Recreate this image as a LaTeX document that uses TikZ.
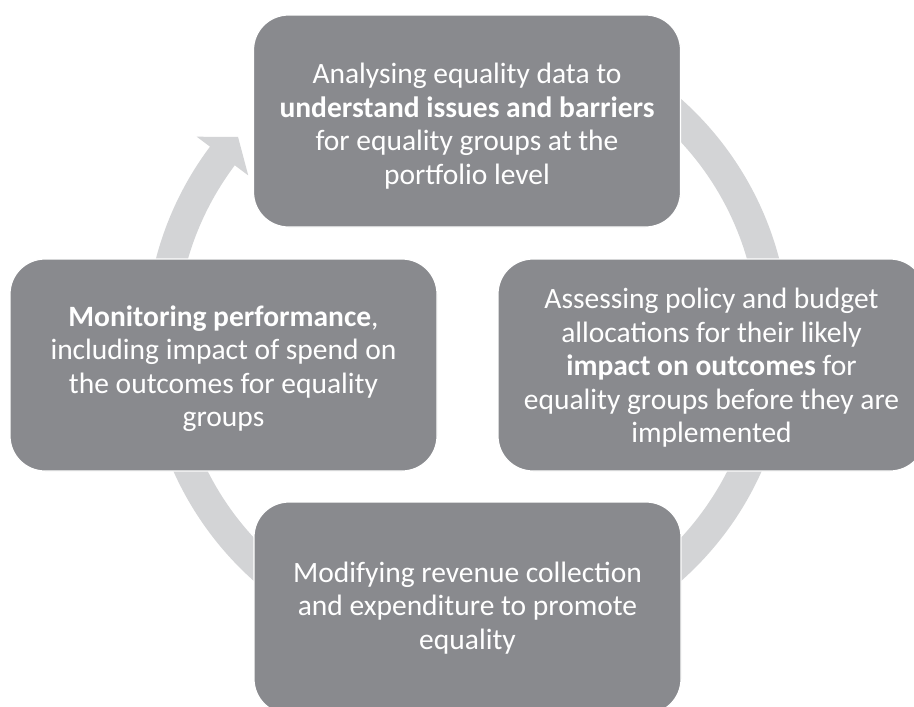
\documentclass[tikz,border=0pt]{standalone}
\usepackage{fontspec}
\setmainfont{Carlito}
\definecolor{boxgray}{RGB}{137,138,142}
\definecolor{ringgray}{RGB}{211,212,214}
\tikzset{
  cyclebox/.style={fill=boxgray, draw=white, line width=1.2pt, rounded corners=35pt,
    minimum width=427pt, minimum height=212pt, inner sep=0pt},
  boxtext/.style={text=white, align=center,
    font=\fontsize{29.5}{33.5}\selectfont, inner sep=0pt},
  ringshape/.style={fill=ringgray}
}
\begin{document}
\begin{tikzpicture}[x=1pt,y=-1pt]
\path[use as bounding box] (0,0) rectangle (914,707);
\clip (0,0) rectangle (914,707);
\fill[white] (0,0) rectangle (914,707);
% ring arrow
\begin{scope}[shift={(467.5,340)}]
\fill[ringshape] (-80:322) arc[start angle=-80,end angle=216.9,radius=322]
  -- (216.9:338.6) -- (221.5:306.4) -- (216.9:274.2) -- (216.9:291)
  arc[start angle=216.9,end angle=-80,radius=291] -- cycle;
\end{scope}
% boxes
\node[cyclebox] (top) at (467,121) {};
\node[cyclebox] (left) at (223.5,365) {};
\node[cyclebox] (right) at (711.5,365) {};
\node[cyclebox] (bottom) at (467.5,608) {};
% texts
\node[boxtext] (toptext) at ([yshift=-5pt]top.center) {Analysing equality data to\\\textbf{understand issues and barriers}\\for equality groups at the\\portfolio level};
\node[boxtext] (lefttext) at ([yshift=-3.5pt]left.center) {\textbf{Monitoring performance},\\including impact of spend on\\the outcomes for equality\\groups};
\node[boxtext] (righttext) at ([yshift=-3pt]right.center) {Assessing policy and budget\\allocations for their likely\\\textbf{impact on outcomes} for\\equality groups before they are\\implemented};
\node[boxtext] (bottomtext) at (bottom.center) {Modifying revenue collection\\and expenditure to promote\\equality};
\end{tikzpicture}
\end{document}
